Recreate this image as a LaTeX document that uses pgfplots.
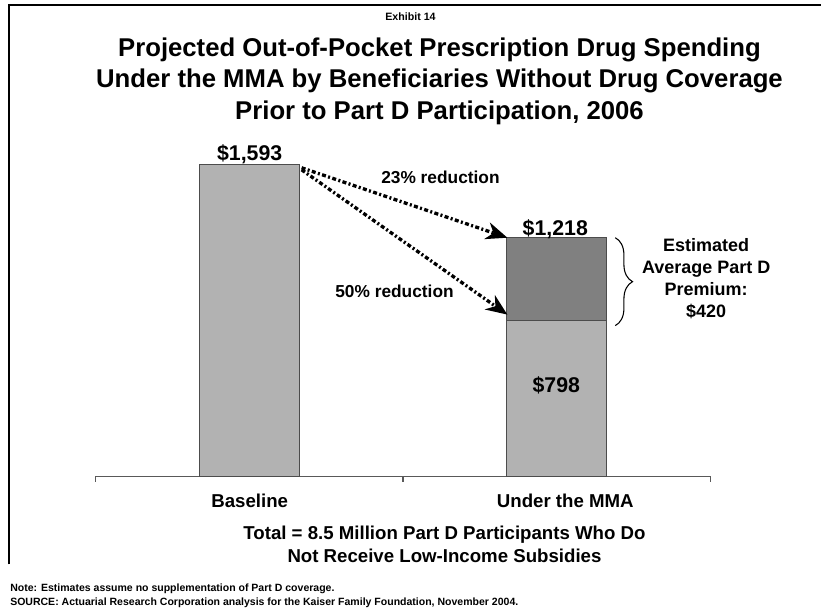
\documentclass[border=0pt]{standalone}
\usepackage{fontspec}
\setmainfont{Liberation Sans}
\usepackage{pgfplots}
\pgfplotsset{compat=1.18}
\usetikzlibrary{arrows.meta,decorations.pathreplacing}
\definecolor{barlight}{RGB}{178,178,178}
\definecolor{bardark}{RGB}{128,128,128}
\newcommand{\fs}[2]{\fontsize{#1}{#2}\selectfont\bfseries}
\begin{document}
\begin{tikzpicture}
\begin{axis}[
  at={(72pt,-357.75pt)}, anchor=south west,
  scale only axis, width=461.25pt, height=294.3pt,
  xmin=-0.5, xmax=1.5, ymin=0, ymax=2000,
  ybar stacked, bar width=75pt,
  axis y line=none, axis x line*=bottom,
  x axis line style={black!65, line width=0.8pt, -},
  xtick={-0.5,0.5,1.5}, xticklabels={},
  tick align=outside, major tick length=4pt,
  xtick style={black!65, line width=0.8pt},
  ytick=\empty,
  clip=false,
]
\addplot[fill=barlight, draw=black!70, line width=0.6pt] coordinates {(0,1593) (1,798)};
\addplot[fill=bardark, draw=black!70, line width=0.6pt] coordinates {(0,0) (1,420)};
\end{axis}
\begin{scope}[x=0.75pt,y=-0.75pt]
\path (0,0) rectangle (822,614);
% frame
\draw[line width=1.5pt] (9,565) -- (9,5.5) -- (822,5.5);
% titles
\node[anchor=base] at (411,21) {\fs{8}{10}Exhibit 14};
\node[anchor=base] at (440,56.5) {\fs{19.3}{23.6}Projected Out-of-Pocket Prescription Drug Spending};
\node[anchor=base] at (440,88) {\fs{19.3}{23.6}Under the MMA by Beneficiaries Without Drug Coverage};
\node[anchor=base] at (440,119.5) {\fs{19.3}{23.6}Prior to Part D Participation, 2006};
% value labels
\node[anchor=base] at (250,161) {\fs{16}{19}\$1,593};
\node[anchor=base] at (556,236) {\fs{16}{19}\$1,218};
\node[anchor=base] at (557,393) {\fs{16}{19}\$798};
% arrows
\draw[line width=2.5pt, dash pattern=on 3pt off 1.8pt on 1.5pt off 1.8pt, -{Stealth[length=16pt,width=13pt,inset=5pt]}] (302,168) -- (508,238);
\draw[line width=2.5pt, dash pattern=on 3pt off 1.8pt on 1.5pt off 1.8pt, -{Stealth[length=16pt,width=13pt,inset=5pt]}] (302,170) -- (508,315);
\node[anchor=base] at (441,184) {\fs{13}{15}23\% reduction};
\node[anchor=base] at (395,298) {\fs{13}{15}50\% reduction};
% brace
\draw[line width=0.8pt, decorate, decoration={brace, amplitude=13pt, aspect=0.5}] (616,238) -- (616,326);
\node[anchor=base] at (707,252) {\fs{13.5}{16.5}Estimated};
\node[anchor=base] at (707,274) {\fs{13.5}{16.5}Average Part D};
\node[anchor=base] at (707,296) {\fs{13.5}{16.5}Premium:};
\node[anchor=base] at (707,318) {\fs{13.5}{16.5}\$420};
% category labels
\node[anchor=base] at (250,508) {\fs{14}{17}Baseline};
\node[anchor=base] at (566,508) {\fs{14}{17}Under the MMA};
\node[anchor=base] at (445,540) {\fs{14}{17}Total = 8.5 Million Part D Participants Who Do};
\node[anchor=base] at (445,563) {\fs{14}{17}Not Receive Low-Income Subsidies};
% notes
\node[anchor=base west, inner sep=0pt] at (10,592) {\fs{7.9}{9}Note: Estimates assume no supplementation of Part D coverage.};
\node[anchor=base west, inner sep=0pt] at (10,606) {\fs{7.9}{9}SOURCE: Actuarial Research Corporation analysis for the Kaiser Family Foundation, November 2004.};
\end{scope}
\end{tikzpicture}
\end{document}
